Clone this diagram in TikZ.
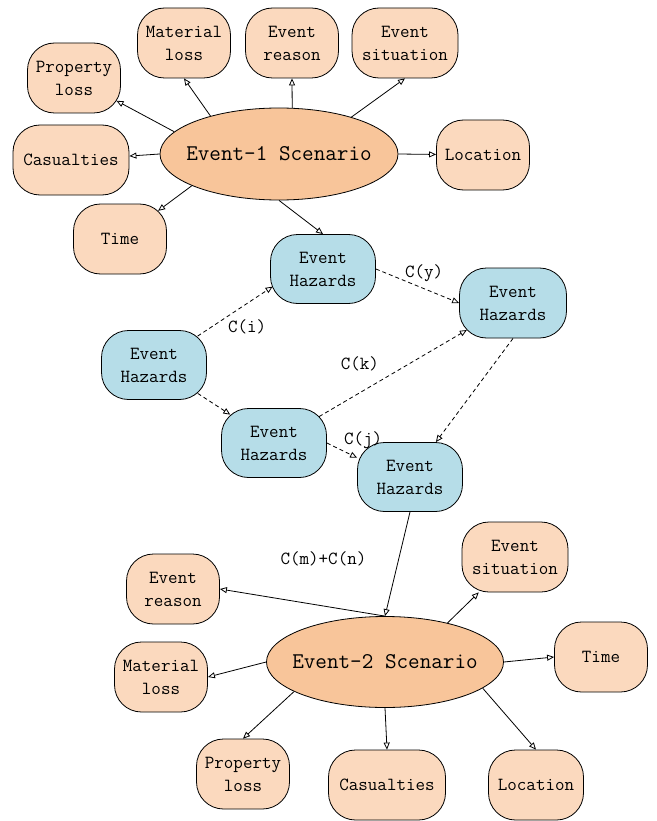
\documentclass[tikz,border=0pt]{standalone}
\usepackage{tikz}
\usepackage{xcolor}
\usetikzlibrary{shapes, positioning, arrows.meta}

\definecolor{sidepeach}{RGB}{251,217,190}
\definecolor{scenepeach}{RGB}{248,197,154}
\definecolor{hazardblue}{RGB}{182,221,232}

\newcommand{\boxfont}{\ttfamily\fontsize{18.5}{23}\selectfont}
\newcommand{\scenefont}{\ttfamily\fontsize{22.5}{27}\selectfont}

\tikzset{
    info/.style={draw, fill=sidepeach, rounded corners=27pt, minimum width=93pt, minimum height=70pt, inner xsep=8pt, align=center, font=\boxfont},
    hazard/.style={info, fill=hazardblue, minimum width=105pt, minimum height=69pt},
    scene/.style={draw, ellipse, fill=scenepeach, minimum width=238pt, minimum height=92pt, inner xsep=-12pt, inner ysep=0pt, font=\scenefont},
    hazlink/.style={->, dash pattern=on 4pt off 3pt},
    lbl/.style={font=\boxfont, inner sep=2pt},
}

\begin{document}
\begin{tikzpicture}[x=1pt, y=-1pt, line width=0.8pt, >={Triangle[open, length=7pt, width=6pt]}]
    \useasboundingbox (0, 0) rectangle (656, 821);

    \node[scene] (e1) at (279, 154) {Event-1 Scenario};
    \node[info] (p1) at (74, 78) {Property\\loss};
    \node[info] (m1) at (184, 43) {Material\\loss};
    \node[info] (r1) at (292, 43) {Event\\reason};
    \node[info, minimum width=106pt] (s1) at (405, 43) {Event\\situation};
    \node[info, minimum width=116pt] (c1) at (71, 160) {Casualties};
    \node[info] (l1) at (483, 155) {Location};
    \node[info] (t1) at (120, 239) {Time};

    \node[hazard] (h0) at (154, 365) {Event\\Hazards};
    \node[hazard] (h1) at (323, 269) {Event\\Hazards};
    \node[hazard] (h2) at (274, 443) {Event\\Hazards};
    \node[hazard, minimum width=107pt, minimum height=70pt] (h3) at (513, 303) {Event\\Hazards};
    \node[hazard] (h4) at (410, 477) {Event\\Hazards};

    \node[scene, minimum width=237pt, minimum height=91pt] (e2) at (385, 662) {Event-2 Scenario};
    \node[info] (r2) at (173, 589) {Event\\reason};
    \node[info] (m2) at (161, 677) {Material\\loss};
    \node[info] (p2) at (243, 774) {Property\\loss};
    \node[info, minimum width=117pt] (c2) at (387, 785) {Casualties};
    \node[info, minimum width=95pt] (l2) at (536, 785) {Location};
    \node[info, minimum width=106pt] (s2) at (515, 557) {Event\\situation};
    \node[info] (t2) at (601, 657) {Time};

    \draw[->, shorten >=-5pt] (e1.168) -- (p1);
    \draw[->] (e1.151) -- (m1.south);
    \draw[->] (e1.74) -- (r1.south);
    \draw[->] (e1.27) -- (s1.south);
    \draw[->] (e1.west) -- (c1);
    \draw[->, shorten >=-11pt] (e1.200) -- (t1);
    \draw[->] (e1.east) -- (l1);
    \draw[->] (e1.south) -- (h1.north);

    \draw[hazlink, shorten <=-11pt, shorten >=-3pt] (h0) -- node[lbl, pos=0.3, below right=0pt] (ci) {C(i)} (h1.200);
    \draw[hazlink] (h1.east) -- node[lbl, pos=0.58, above=5pt] (cy) {C(y)} (h3.west);
    \draw[hazlink, shorten <=-11pt, shorten >=-11pt] (h0) -- (h2);
    \draw[hazlink, shorten <=-9pt, shorten >=-9pt] (h2) -- node[lbl, pos=0.25, above=19pt] (ck) {C(k)} (h3);
    \draw[hazlink] (h2.east) -- node[lbl, pos=1, above=7pt, xshift=6pt] (cj) {C(j)} (h4.160);
    \draw[hazlink] (h3.south) -- (h4);
    \draw[->] (h4.south) -- node[lbl, pos=0.45, left=30pt] (cmn) {C(m)+C(n)} (e2.north);

    \draw[->] (e2.north) -- (r2.east);
    \draw[->] (e2.west) -- (m2.east);
    \draw[->] (e2.198) -- (p2.north);
    \draw[->] (e2.south) -- (c2.north);
    \draw[->] (e2.345) -- (l2.north);
    \draw[->] (e2.32) -- (s2);
    \draw[->] (e2.east) -- (t2.west);
\end{tikzpicture}
\end{document}
